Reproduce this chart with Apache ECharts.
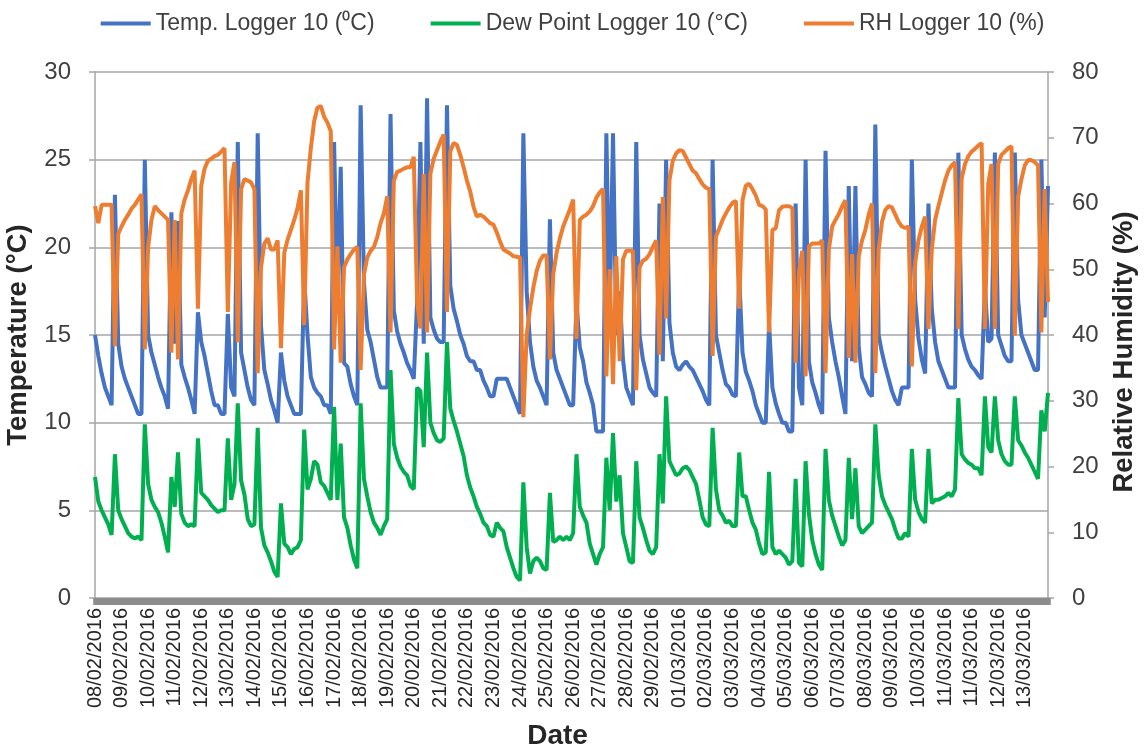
<!DOCTYPE html>
<html>
<head>
<meta charset="utf-8">
<script src="https://cdn.jsdelivr.net/npm/echarts@6/dist/echarts.min.js"></script>
<style>
html, body { margin: 0; padding: 0; background: #ffffff; }
#chart { width: 1145px; height: 756px; }
</style>
</head>
<body>
<div id="chart"></div>
<script>
// Logger 10 readings, 8 samples per labelled day (3-hourly)
const dayLabels = [
  '08/02/2016', '09/02/2016', '10/02/2016', '11/02/2016', '12/02/2016', '13/02/2016',
  '14/02/2016', '15/02/2016', '16/02/2016', '17/02/2016', '18/02/2016', '19/02/2016',
  '20/02/2016', '21/02/2016', '22/02/2016', '23/02/2016', '24/02/2016', '25/02/2016',
  '26/02/2016', '27/02/2016', '28/02/2016', '29/02/2016', '01/03/2016', '02/03/2016',
  '03/03/2016', '04/03/2016', '05/03/2016', '06/03/2016', '07/03/2016', '08/03/2016',
  '09/03/2016', '10/03/2016', '11/03/2016', '11/03/2016', '12/03/2016', '13/03/2016'
];
const samplesPerDay = 8;

// Temperature (°C)
const temperature = [
  15.0, 13.8, 12.8, 12.0, 11.5, 11.0, 23.0, 14.5,
  13.2, 12.5, 12.0, 11.5, 11.0, 10.5, 10.5, 25.0,
  15.0, 14.0, 13.3, 12.6, 12.0, 11.5, 10.8, 22.0,
  14.5, 21.5, 13.3, 12.6, 12.0, 11.3, 10.5, 16.3,
  14.6, 13.8, 12.8, 11.8, 11.0, 11.0, 10.5, 10.5,
  16.2, 12.0, 11.5, 26.0, 14.0, 13.0, 12.0, 11.3,
  11.0, 26.5, 15.5, 13.0, 12.2, 11.3, 10.7, 10.0,
  14.0, 12.4, 11.5, 11.0, 10.5, 10.5, 10.5, 18.3,
  15.0, 12.6, 12.0, 11.7, 11.5, 11.0, 11.0, 10.5,
  26.0, 17.0, 24.6, 13.4, 13.2, 12.2, 11.5, 11.0,
  28.1, 18.0, 15.3, 14.6, 13.6, 12.6, 12.0, 12.0,
  12.0, 27.6, 16.4, 15.2, 14.5, 14.0, 13.4, 13.0,
  12.5, 16.9, 26.0, 14.5, 28.5, 16.0, 15.3, 14.8,
  14.6, 14.6, 28.1, 17.8, 16.5, 15.8, 15.0, 14.5,
  13.8, 13.5, 13.5, 13.0, 13.0, 12.4, 12.0, 11.5,
  11.5, 12.5, 12.5, 12.5, 12.5, 12.0, 11.5, 11.0,
  10.5, 26.5, 17.5, 14.6, 13.2, 12.4, 12.0, 11.5,
  11.0, 21.6, 14.0, 13.0, 12.5, 12.0, 11.5, 11.0,
  11.0, 16.9, 14.3, 13.5, 12.3, 11.7, 11.0, 9.5,
  9.5, 9.5, 26.5, 16.0, 26.5, 15.0, 17.5, 13.6,
  12.0, 11.5, 11.0, 26.0, 15.0, 13.6, 12.8, 12.0,
  11.7, 11.5, 22.5, 13.5, 25.0, 15.7, 14.0, 13.2,
  13.0, 13.3, 13.5, 13.2, 13.0, 12.6, 12.2, 11.8,
  11.3, 11.0, 25.0, 15.0, 14.0, 13.0, 12.2, 12.0,
  11.6, 11.5, 18.4, 14.0, 12.9, 12.4, 11.8, 11.0,
  10.5, 10.0, 10.0, 15.7, 12.0, 11.1, 10.5, 10.0,
  10.0, 9.5, 9.5, 22.5, 12.0, 11.0, 25.0, 13.5,
  12.3, 11.7, 11.0, 10.5, 25.5, 16.0, 14.6, 13.5,
  12.6, 11.5, 10.5, 23.5, 13.5, 23.5, 14.3, 12.6,
  12.2, 11.7, 11.5, 27.0, 15.0, 14.0, 13.2, 12.5,
  11.8, 11.3, 11.0, 12.0, 12.0, 12.0, 25.0, 17.0,
  14.8, 13.6, 12.8, 22.5, 16.5, 14.6, 13.5, 13.0,
  12.5, 12.0, 12.0, 12.0, 25.4, 15.0, 14.2, 13.6,
  13.2, 13.0, 12.7, 12.5, 17.7, 14.6, 14.8, 25.4,
  15.0, 14.4, 13.8, 13.5, 13.5, 25.4, 17.0, 15.0,
  14.5, 14.0, 13.5, 13.0, 13.0, 25.0, 16.0, 23.5
];

// Dew point (°C)
const dewPoint = [
  6.9, 5.5, 5.0, 4.6, 4.2, 3.6, 8.2, 5.0,
  4.5, 4.1, 3.7, 3.5, 3.4, 3.5, 3.3, 9.9,
  6.5, 5.6, 5.2, 4.9, 4.3, 3.5, 2.6, 6.9,
  5.2, 8.3, 4.8, 4.3, 4.1, 4.2, 4.1, 9.1,
  6.0, 5.8, 5.6, 5.3, 5.1, 4.9, 5.0, 5.0,
  9.1, 5.6, 6.5, 11.1, 6.7, 5.9, 4.5, 4.1,
  4.2, 9.7, 4.0, 3.0, 2.6, 2.1, 1.5, 1.2,
  5.4, 3.1, 2.9, 2.5, 2.8, 2.9, 3.3, 9.6,
  6.2, 6.8, 7.8, 7.6, 6.6, 6.4, 6.0, 5.6,
  10.9, 5.6, 8.8, 4.6, 4.0, 3.0, 2.2, 1.7,
  11.1, 6.8, 5.8, 4.9, 4.3, 4.0, 3.6, 4.1,
  4.5, 13.0, 8.8, 8.0, 7.5, 7.2, 7.0, 6.4,
  6.2, 12.0, 11.8, 8.6, 14.0, 10.0, 9.4, 9.0,
  8.9, 9.1, 14.6, 10.8, 10.1, 9.5, 8.8, 8.1,
  7.0, 6.3, 5.8, 5.2, 4.8, 4.3, 4.1, 3.6,
  3.5, 4.3, 4.0, 3.8, 2.9, 2.3, 1.7, 1.2,
  1.0, 6.6, 2.9, 1.4, 2.1, 2.3, 2.1, 1.7,
  1.6, 6.0, 3.2, 3.3, 3.5, 3.3, 3.5, 3.3,
  3.7, 8.2, 5.2, 4.7, 4.3, 3.1, 2.5, 1.9,
  2.5, 2.9, 8.0, 5.0, 9.4, 5.5, 7.0, 3.7,
  2.9, 2.1, 2.0, 7.8, 4.6, 4.0, 3.3, 2.7,
  2.5, 2.9, 8.2, 5.4, 11.5, 7.8, 7.4, 7.0,
  7.1, 7.4, 7.5, 7.3, 6.9, 6.5, 5.6, 4.6,
  4.2, 4.1, 9.7, 6.2, 5.0, 4.7, 4.3, 4.4,
  4.1, 4.1, 8.3, 5.8, 5.8, 5.0, 4.3, 3.9,
  3.1, 2.5, 2.6, 7.2, 2.9, 2.5, 2.7, 2.5,
  2.3, 1.9, 2.1, 6.8, 2.0, 1.8, 7.8, 4.8,
  3.3, 2.5, 1.9, 1.6, 8.5, 5.6, 4.7, 4.1,
  3.5, 3.0, 3.3, 8.0, 4.5, 7.4, 4.1, 3.7,
  3.9, 4.1, 4.3, 9.9, 7.0, 5.8, 5.3, 4.9,
  4.5, 3.9, 3.4, 3.4, 3.7, 3.5, 8.5, 5.6,
  4.9, 4.5, 4.3, 8.5, 5.4, 5.6, 5.6, 5.7,
  5.8, 6.0, 5.8, 6.2, 11.4, 8.2, 7.9, 7.7,
  7.6, 7.4, 7.4, 7.0, 11.5, 8.6, 8.3, 11.5,
  9.0, 8.2, 7.8, 7.6, 7.6, 11.5, 9.0, 8.7,
  8.3, 8.0, 7.6, 7.2, 6.8, 10.7, 9.5, 11.7
];

// Relative humidity (%)
const relHumidity = [
  59.6, 57.0, 59.8, 59.8, 59.8, 59.8, 38.3, 55.4,
  56.5, 57.5, 58.3, 59.2, 59.8, 60.6, 61.4, 37.8,
  53.4, 57.5, 59.6, 59.0, 58.5, 58.0, 57.5, 37.3,
  57.5, 36.3, 58.5, 60.6, 62.0, 63.7, 65.0, 44.0,
  62.7, 65.3, 66.5, 66.8, 67.2, 67.4, 67.9, 68.4,
  43.5, 63.2, 66.3, 38.9, 62.2, 63.7, 63.5, 63.2,
  62.2, 34.2, 50.3, 53.9, 54.7, 53.0, 53.0, 54.4,
  38.0, 52.5, 54.5, 56.0, 57.5, 59.3, 62.0, 41.5,
  63.2, 68.4, 72.5, 74.6, 74.8, 73.2, 72.3, 71.0,
  37.8, 53.5, 35.8, 50.3, 51.5, 52.3, 53.0, 53.4,
  34.7, 49.2, 51.8, 52.8, 53.4, 54.9, 57.0, 58.5,
  61.1, 40.4, 63.5, 64.8, 65.0, 65.3, 65.5, 65.5,
  67.1, 45.1, 41.0, 64.5, 40.4, 64.5, 66.8, 68.1,
  69.4, 70.5, 43.5, 67.9, 69.2, 68.9, 67.4, 65.5,
  63.5, 61.8, 59.5, 58.0, 58.3, 58.0, 57.5, 57.0,
  56.8, 55.6, 54.2, 53.0, 52.7, 52.4, 52.0, 51.9,
  51.8, 27.5, 40.0, 44.0, 47.2, 49.7, 51.3, 52.1,
  52.1, 36.3, 49.2, 52.5, 54.7, 56.5, 57.8, 59.1,
  60.6, 39.4, 57.5, 58.0, 58.3, 58.8, 59.6, 60.9,
  61.7, 62.2, 33.7, 50.0, 32.5, 52.0, 36.0, 51.5,
  52.8, 52.8, 52.8, 31.6, 50.3, 51.3, 51.6, 52.3,
  53.4, 54.4, 37.0, 61.0, 42.5, 63.5, 66.5, 67.6,
  68.1, 68.0, 67.0, 66.0, 65.0, 64.6, 63.7, 62.9,
  62.4, 62.2, 36.8, 55.0, 56.2, 57.5, 58.5, 59.4,
  60.1, 60.4, 44.0, 60.5, 62.7, 63.0, 62.2, 61.2,
  59.8, 59.6, 59.1, 40.4, 56.0, 56.2, 59.0, 59.5,
  59.6, 59.6, 59.3, 35.8, 49.5, 52.8, 33.7, 53.5,
  53.9, 53.9, 53.9, 54.4, 34.2, 53.0, 56.5, 57.5,
  58.4, 59.6, 60.5, 36.5, 52.3, 35.8, 52.0, 54.4,
  56.0, 58.3, 60.0, 34.2, 53.0, 57.2, 59.0, 59.6,
  59.4, 58.3, 57.2, 56.5, 56.3, 56.5, 35.2, 51.0,
  54.4, 56.5, 58.0, 40.9, 53.0, 57.5, 59.6, 61.6,
  63.5, 65.0, 65.8, 66.3, 40.9, 63.8, 66.0, 67.2,
  67.9, 68.3, 68.8, 69.2, 40.9, 63.0, 66.0, 40.9,
  66.0, 67.4, 67.9, 68.4, 68.7, 39.9, 61.0, 63.7,
  65.8, 66.6, 66.6, 66.3, 65.8, 40.4, 62.2, 45.0
];

// One category per sample; the label shows the day part only
const categories = [];
dayLabels.forEach((day, di) => {
  for (let j = 0; j < samplesPerDay; j++) {
    categories.push(day + '|' + (di * samplesPerDay + j));
  }
});

const FONT = '"Liberation Sans", Arial, sans-serif';
const GRID_GRAY = '#a6a6a6';
const TEXT_DARK = '#262626';
const LINE_W = 4;

const chart = echarts.init(document.getElementById('chart'), null, { renderer: 'canvas' });

chart.setOption({
  animation: false,
  backgroundColor: '#ffffff',
  textStyle: { fontFamily: FONT },
  color: ['#4472C4', '#00B050', '#ED7D31'],
  legend: {
    top: 7,
    left: 'center',
    icon: 'rect',
    itemWidth: 50,
    itemHeight: 4,
    itemGap: 56,
    textStyle: { fontFamily: FONT, fontSize: 23, color: '#404040' },
    data: ['Temp. Logger 10 (\u2070C)', 'Dew Point Logger 10 (\u00b0C)', 'RH Logger 10 (%)']
  },
  grid: { left: 95, right: 97, top: 72, bottom: 158, containLabel: false, outerBoundsMode: 'none' },
  xAxis: {
    type: 'category',
    boundaryGap: false,
    data: categories,
    name: 'Date',
    nameLocation: 'middle',
    nameGap: 124,
    nameTextStyle: { fontFamily: FONT, fontSize: 28, fontWeight: 'bold', color: TEXT_DARK, padding: [0, 28, 0, 0] },
    axisLine: { show: true, lineStyle: { color: '#8c8c8c', width: 1 } },
    axisTick: { show: true, interval: 0, length: 7, lineStyle: { color: '#8c8c8c', width: 4.5 } },
    axisLabel: {
      interval: samplesPerDay - 1,
      rotate: 90,
      margin: 10,
      fontFamily: FONT,
      fontSize: 20,
      color: TEXT_DARK,
      formatter: v => v.split('|')[0]
    },
    splitLine: { show: false }
  },
  yAxis: [
    {
      type: 'value',
      position: 'left',
      min: 0,
      max: 30,
      interval: 5,
      name: 'Temperature (\u00b0C)',
      nameLocation: 'middle',
      nameRotate: 90,
      nameGap: 63,
      nameTextStyle: { fontFamily: FONT, fontSize: 27.5, fontWeight: 'bold', color: TEXT_DARK },
      axisLine: { show: true, lineStyle: { color: GRID_GRAY, width: 1.5 } },
      axisTick: { show: true, length: 6, lineStyle: { color: GRID_GRAY, width: 1.5 } },
      axisLabel: { fontFamily: FONT, fontSize: 24, color: '#404040', margin: 24 },
      splitLine: { show: true, lineStyle: { color: GRID_GRAY, width: 1.5 } }
    },
    {
      type: 'value',
      position: 'right',
      min: 0,
      max: 80,
      interval: 10,
      name: 'Relative Humidity (%)',
      nameLocation: 'middle',
      nameRotate: 90,
      nameGap: 62,
      nameTextStyle: { fontFamily: FONT, fontSize: 27.5, fontWeight: 'bold', color: TEXT_DARK, padding: [0, 34, 0, 0] },
      axisLine: { show: true, lineStyle: { color: GRID_GRAY, width: 1.5 } },
      axisTick: { show: true, length: 6, lineStyle: { color: GRID_GRAY, width: 1.5 } },
      axisLabel: { fontFamily: FONT, fontSize: 24, color: '#404040', margin: 24 },
      splitLine: { show: false }
    }
  ],
  series: [
    {
      name: 'Temp. Logger 10 (\u2070C)',
      type: 'line',
      yAxisIndex: 0,
      data: temperature,
      showSymbol: false,
      lineStyle: { width: LINE_W, color: '#4472C4' },
      itemStyle: { color: '#4472C4' }
    },
    {
      name: 'Dew Point Logger 10 (\u00b0C)',
      type: 'line',
      yAxisIndex: 0,
      data: dewPoint,
      showSymbol: false,
      lineStyle: { width: LINE_W, color: '#00B050' },
      itemStyle: { color: '#00B050' }
    },
    {
      name: 'RH Logger 10 (%)',
      type: 'line',
      yAxisIndex: 1,
      data: relHumidity,
      showSymbol: false,
      lineStyle: { width: LINE_W, color: '#ED7D31' },
      itemStyle: { color: '#ED7D31' }
    }
  ]
});
</script>
</body>
</html>
